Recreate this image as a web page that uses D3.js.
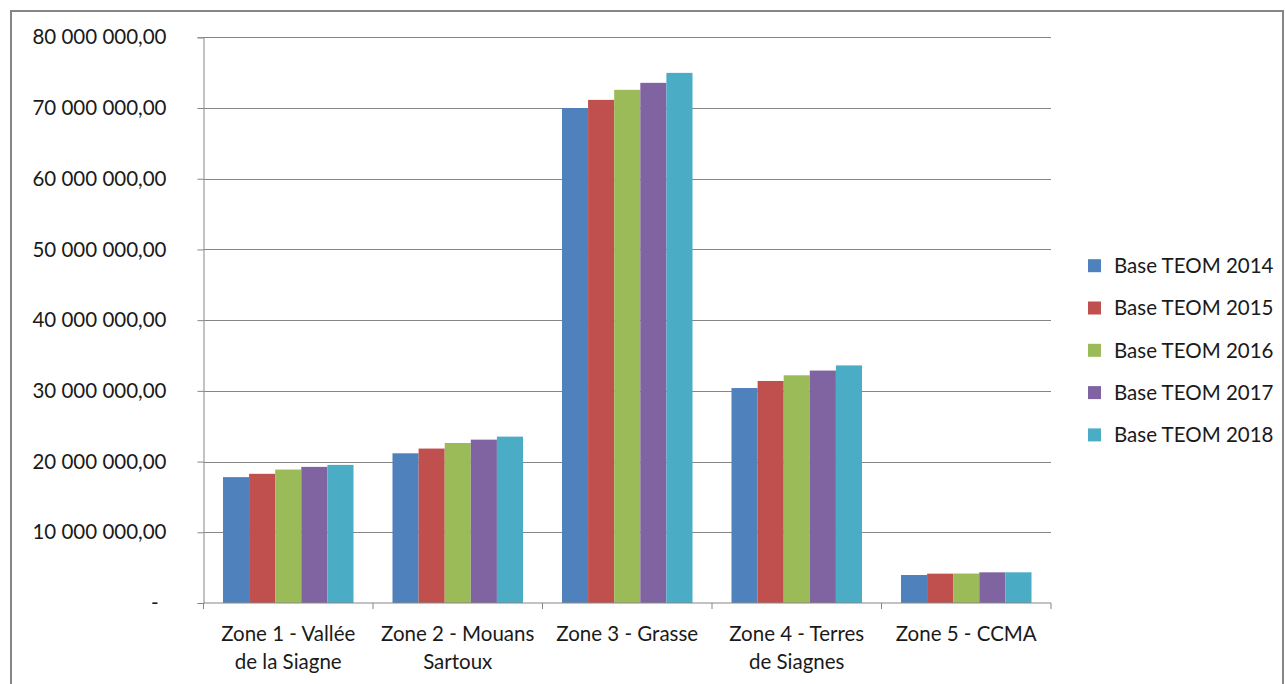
<!DOCTYPE html>
<html><head><meta charset="utf-8">
<script src="https://cdn.jsdelivr.net/npm/d3@7"></script>
<style>
html,body{margin:0;padding:0;background:#fff;}
text{font-family:Lato,"Open Sans",sans-serif;fill:#1a1a1a;}
</style></head>
<body>
<svg id="c" width="1285" height="684"></svg>
<script>
const zones = [["Zone 1 - Vallée","de la Siagne"],["Zone 2 - Mouans","Sartoux"],["Zone 3 - Grasse"],["Zone 4 - Terres","de Siagnes"],["Zone 5 - CCMA"]];
const zoneKeys = ["Z1","Z2","Z3","Z4","Z5"];
const seriesNames = ["Base TEOM 2014","Base TEOM 2015","Base TEOM 2016","Base TEOM 2017","Base TEOM 2018"];
const colors = ["#4F81BD","#C0504D","#9BBB59","#8064A2","#4BACC6"];
const v2014 = [17800000,21170000,70000000,30400000,3960000];
const v2015 = [18270000,21840000,71150000,31400000,4150000];
const v2016 = [18870000,22630000,72570000,32200000,4170000];
const v2017 = [19250000,23100000,73560000,32870000,4340000];
const v2018 = [19530000,23530000,74970000,33600000,4340000];
const seriesValues = [v2014,v2015,v2016,v2017,v2018];
const yTicks = [0,10000000,20000000,30000000,40000000,50000000,60000000,70000000,80000000];

const svg = d3.select("#c");
svg.append("rect").attr("x",11).attr("y",11).attr("width",1272).attr("height",700)
  .attr("fill","none").attr("stroke","#868686").attr("stroke-width",2);

const pLeft=203.5, pRight=1051, pTop=37.3, pBottom=603;
const y = d3.scaleLinear().domain([0,80000000]).range([pBottom,pTop]);
const x0 = d3.scaleBand().domain(zoneKeys).range([pLeft,pRight]).padding(0);
const bw = x0.bandwidth();
const x1 = d3.scaleBand().domain(seriesNames).range([bw*0.115, bw*0.885]).padding(0);

const fmt = v => v===0 ? "-" : d3.format(",.2f")(v).replace(/,/g," ").replace(".",",");

// gridlines
svg.append("g").selectAll("line").data(yTicks.filter(d=>d>0)).join("line")
  .attr("x1",pLeft).attr("x2",pRight).attr("y1",d=>Math.round(y(d))+0.5).attr("y2",d=>Math.round(y(d))+0.5)
  .attr("stroke","#868686").attr("stroke-width",1);

// bars
const g = svg.append("g");
seriesNames.forEach((s,si)=>{
  g.append("g").selectAll("rect").data(seriesValues[si]).join("rect")
   .attr("x",(d,i)=>x0(zoneKeys[i])+x1(s))
   .attr("width",x1.bandwidth())
   .attr("y",d=>y(d)).attr("height",d=>y(0)-y(d))
   .attr("fill",colors[si]);
});

// y axis
const yAxis = d3.axisLeft(y).tickValues(yTicks).tickSize(6).tickFormat(fmt);
const ya = svg.append("g").attr("transform",`translate(${pLeft},0)`).call(yAxis);
ya.select(".domain").attr("stroke","#868686");
ya.selectAll(".tick line").attr("stroke","#868686");
ya.selectAll(".tick text").attr("x",-37).attr("font-size","20.5px").attr("fill","#1a1a1a")
  .attr("font-family","Lato").attr("dx",d=>d===0?"-8":"0");

// x axis
const xAxis = d3.axisBottom(x0).tickSize(0).tickFormat("");
const xa = svg.append("g").attr("transform",`translate(0,${pBottom})`).call(xAxis);
xa.select(".domain").attr("stroke","#868686").attr("d",`M${pLeft},0H${pRight}`);
xa.append("g").selectAll("line").data(d3.range(zoneKeys.length+1)).join("line")
  .attr("x1",i=>pLeft+i*bw).attr("x2",i=>pLeft+i*bw).attr("y1",0).attr("y2",6).attr("stroke","#868686");
zones.forEach((lines,i)=>{
  const t = svg.append("text").attr("text-anchor","middle").attr("font-size","20.5px")
    .attr("x",x0(zoneKeys[i])+bw/2).attr("y",641);
  lines.forEach((l,j)=>t.append("tspan").attr("x",x0(zoneKeys[i])+bw/2).attr("dy",j===0?0:28).text(l));
});

// legend
const lg = svg.append("g");
seriesNames.forEach((s,i)=>{
  const cy = 265.7 + i*42.3;
  lg.append("rect").attr("x",1088).attr("y",cy-6.5).attr("width",13).attr("height",13).attr("fill",colors[i]);
  lg.append("text").attr("x",1114).attr("y",cy).attr("dy","0.36em").attr("font-size","20.5px").text(s);
});
</script>
</body></html>
